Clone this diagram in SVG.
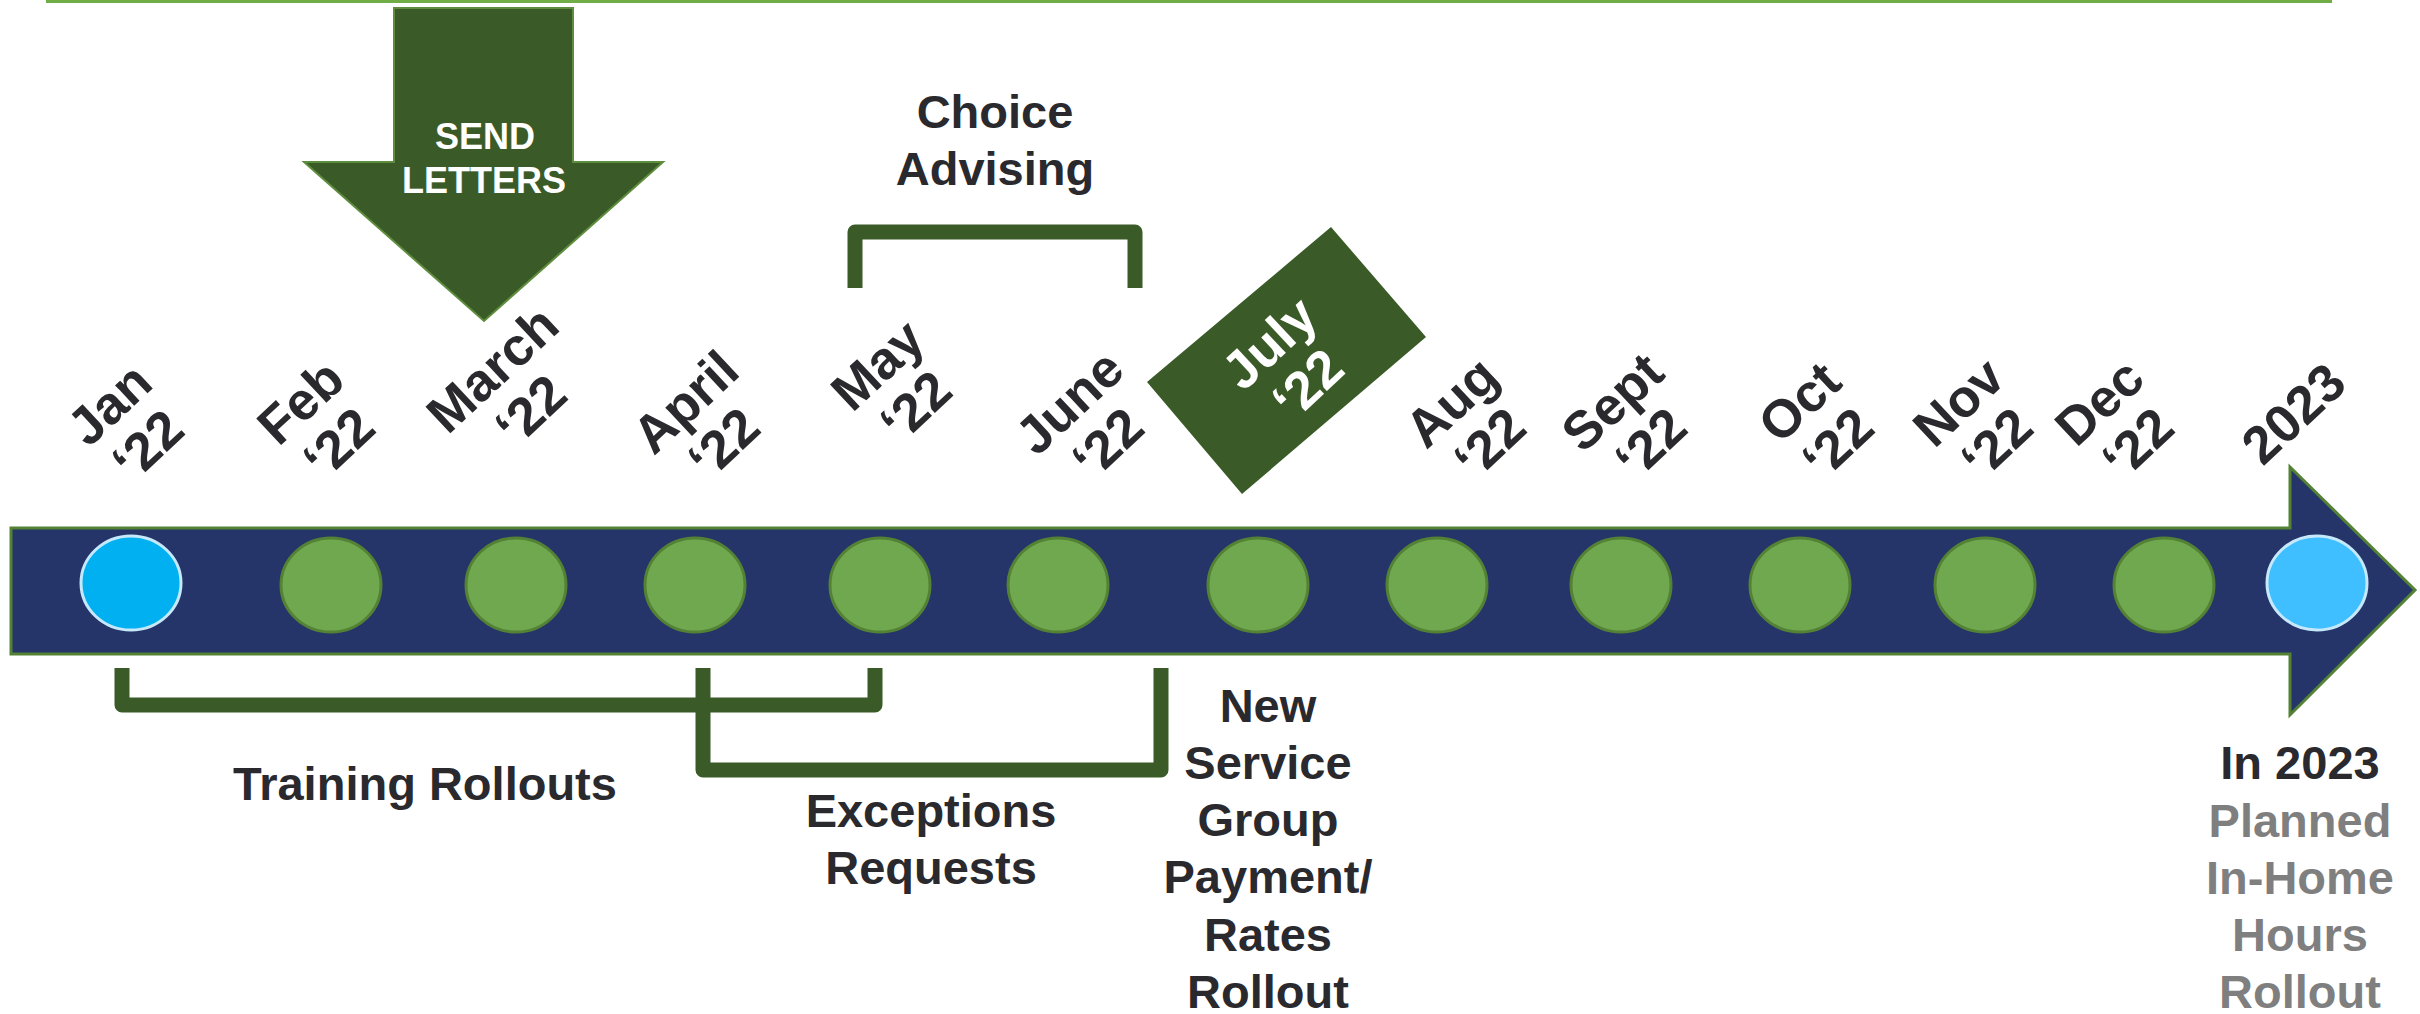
<svg xmlns="http://www.w3.org/2000/svg" width="2420" height="1014" viewBox="0 0 2420 1014">
<style>
.t{font-family:"Liberation Sans",Arial,sans-serif;font-weight:bold;fill:#2a2a2e;text-anchor:middle}
.m{font-size:53px}
.b{font-size:47px}
.g{fill:#7f7f7f}
.w{fill:#ffffff}
.dot{fill:#70a84f;stroke:#548235;stroke-width:3}
.br{fill:none;stroke:#3a5a27;stroke-width:15;stroke-linejoin:round}
</style>
<rect width="2420" height="1014" fill="#ffffff"/>
<line x1="46" y1="1.5" x2="2332" y2="1.5" stroke="#70ad47" stroke-width="3"/>
<g id="timeline">
<polygon points="11,528 2290,528 2290,467 2415,590 2290,715 2290,654 11,654" fill="#253569" stroke="#548235" stroke-width="3"/>
</g>
<g id="dots">
<ellipse id="jan-dot" cx="131" cy="583" rx="50" ry="47" fill="#00b0f0" stroke="#c5e9fb" stroke-width="3"/>
<ellipse class="dot" cx="331" cy="585" rx="50" ry="47"/>
<ellipse class="dot" cx="516" cy="585" rx="50" ry="47"/>
<ellipse class="dot" cx="695" cy="585" rx="50" ry="47"/>
<ellipse class="dot" cx="880" cy="585" rx="50" ry="47"/>
<ellipse class="dot" cx="1058" cy="585" rx="50" ry="47"/>
<ellipse class="dot" cx="1258" cy="585" rx="50" ry="47"/>
<ellipse class="dot" cx="1437" cy="585" rx="50" ry="47"/>
<ellipse class="dot" cx="1621" cy="585" rx="50" ry="47"/>
<ellipse class="dot" cx="1800" cy="585" rx="50" ry="47"/>
<ellipse class="dot" cx="1985" cy="585" rx="50" ry="47"/>
<ellipse class="dot" cx="2164" cy="585" rx="50" ry="47"/>
<ellipse id="y2023-dot" cx="2317" cy="583" rx="50" ry="47" fill="#3fbfff" stroke="#c5e9fb" stroke-width="3"/>
</g>
<g id="send-letters">
<polygon points="394,8 573,8 573,162 663,162 484,321 304,162 394,162" fill="#3a5a27" stroke="#5e8d3e" stroke-width="2"/>
<text class="t w" font-size="36" x="485" y="149">SEND</text>
<text class="t w" font-size="36" x="484" y="193">LETTERS</text>
</g>
<g id="july">
<polygon points="1331,227 1426,337 1242,494 1147,382" fill="#3a5a27"/>
<text class="t m w" transform="translate(1288,363) rotate(-43)"><tspan x="0" y="-9">July</tspan><tspan x="0" y="47">&#8216;22</tspan></text>
</g>
<g id="month-labels">
<text id="jan" class="t m" transform="translate(128,424) rotate(-43)"><tspan x="0" y="-9">Jan</tspan><tspan x="0" y="47">&#8216;22</tspan></text>
<text id="feb" class="t m" transform="translate(319,422) rotate(-43)"><tspan x="0" y="-9">Feb</tspan><tspan x="0" y="47">&#8216;22</tspan></text>
<text id="mar" class="t m" transform="translate(511,389) rotate(-43)"><tspan x="0" y="-9">March</tspan><tspan x="0" y="47">&#8216;22</tspan></text>
<text id="apr" class="t m" transform="translate(704,422) rotate(-43)"><tspan x="0" y="-9">April</tspan><tspan x="0" y="47">&#8216;22</tspan></text>
<text id="may" class="t m" transform="translate(896,385) rotate(-43)"><tspan x="0" y="-9">May</tspan><tspan x="0" y="47">&#8216;22</tspan></text>
<text id="jun" class="t m" transform="translate(1088,422) rotate(-43)"><tspan x="0" y="-9">June</tspan><tspan x="0" y="47">&#8216;22</tspan></text>
<text id="aug" class="t m" transform="translate(1470,422) rotate(-43)"><tspan x="0" y="-9">Aug</tspan><tspan x="0" y="47">&#8216;22</tspan></text>
<text id="sep" class="t m" transform="translate(1631,422) rotate(-43)"><tspan x="0" y="-9">Sept</tspan><tspan x="0" y="47">&#8216;22</tspan></text>
<text id="oct" class="t m" transform="translate(1818,422) rotate(-43)"><tspan x="0" y="-9">Oct</tspan><tspan x="0" y="47">&#8216;22</tspan></text>
<text id="nov" class="t m" transform="translate(1977,422) rotate(-43)"><tspan x="0" y="-9">Nov</tspan><tspan x="0" y="47">&#8216;22</tspan></text>
<text id="dec" class="t m" transform="translate(2118,422) rotate(-43)"><tspan x="0" y="-9">Dec</tspan><tspan x="0" y="47">&#8216;22</tspan></text>
<text id="y2023" class="t m" transform="translate(2293,413) rotate(-43)"><tspan x="0" y="19">2023</tspan></text>
</g>
<g id="connectors">
<path id="choice-bracket" class="br" d="M855,288 V232 H1135 V288"/>
<path id="training-bracket" class="br" d="M122,668 V705 H875 V668"/>
<path id="exceptions-bracket" class="br" d="M703,668 V770 H1161 V668"/>
</g>
<g id="choice-label">
<text class="t b" x="995" y="128">Choice</text>
<text class="t b" x="995" y="185">Advising</text>
</g>
<g id="training-label">
<text class="t b" x="425" y="800">Training Rollouts</text>
</g>
<g id="exceptions-label">
<text class="t b" x="931" y="827">Exceptions</text>
<text class="t b" x="931" y="884">Requests</text>
</g>
<g id="rates-label">
<text class="t b" x="1268" y="722">New</text>
<text class="t b" x="1268" y="779">Service</text>
<text class="t b" x="1268" y="836">Group</text>
<text class="t b" x="1268" y="893">Payment/</text>
<text class="t b" x="1268" y="951">Rates</text>
<text class="t b" x="1268" y="1008">Rollout</text>
</g>
<g id="inhome-label">
<text class="t b" x="2300" y="779">In 2023</text>
<text class="t b g" x="2300" y="837">Planned</text>
<text class="t b g" x="2300" y="894">In-Home</text>
<text class="t b g" x="2300" y="951">Hours</text>
<text class="t b g" x="2300" y="1008">Rollout</text>
</g>
</svg>
